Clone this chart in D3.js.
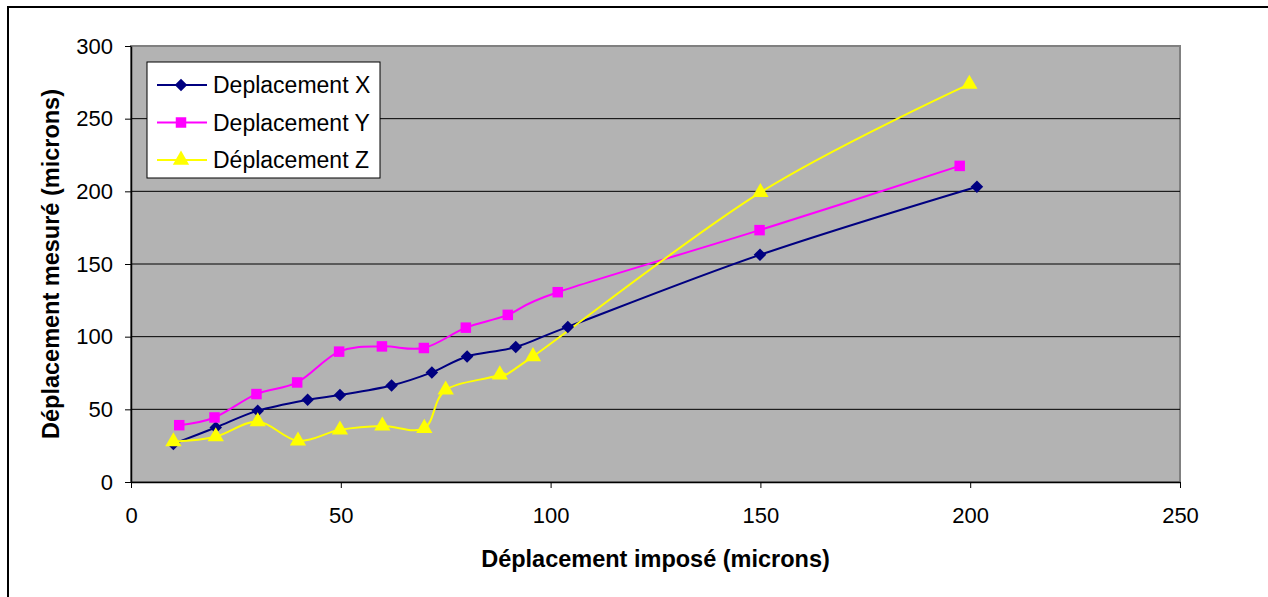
<!DOCTYPE html>
<html>
<head>
<meta charset="utf-8">
<script src="https://cdn.jsdelivr.net/npm/d3@7"></script>
<style>
  body { margin: 0; background: #fff; }
  text { font-family: "Liberation Sans", Arial, sans-serif; }
</style>
</head>
<body>
<svg id="chart" width="1268" height="597"></svg>
<script>
// data
const xValsX = [10.1, 20.2, 30.2, 42.1, 49.8, 62.1, 71.7, 80.1, 91.7, 104.1, 149.9, 201.6];
const yValsX = [26.2, 37.5, 49, 56.6, 59.8, 66.4, 75.4, 86.4, 92.9, 106.7, 156.3, 203.2];

const xValsY = [11.5, 19.9, 29.9, 39.6, 49.6, 59.8, 69.8, 79.8, 89.8, 101.7, 149.8, 197.5];
const yValsY = [39.1, 44.4, 60.5, 68.5, 89.7, 93.3, 92.2, 106.2, 115, 130.6, 173.3, 217.5];

const xValsZ = [10.1, 20.2, 30.2, 39.8, 49.8, 59.9, 69.9, 75, 87.9, 95.8, 150, 199.8];
const yValsZ = [27.8, 31.2, 41.6, 28.3, 35.9, 38.6, 37, 63.4, 73.8, 86.4, 199.3, 273.8];

const seriesNames = ["Deplacement X", "Deplacement Y", "Déplacement Z"];
const seriesColors = ["#000080", "#ff00ff", "#ffff00"];
const xTicks = [0, 50, 100, 150, 200, 250];
const yTicks = [0, 50, 100, 150, 200, 250, 300];

const series = [
  { name: seriesNames[0], color: seriesColors[0], symbol: "diamond", values: xValsX.map((x, i) => ({ x, y: yValsX[i] })) },
  { name: seriesNames[1], color: seriesColors[1], symbol: "square", values: xValsY.map((x, i) => ({ x, y: yValsY[i] })) },
  { name: seriesNames[2], color: seriesColors[2], symbol: "triangle", values: xValsZ.map((x, i) => ({ x, y: yValsZ[i] })) },
];

const svg = d3.select("#chart");

// outer chart border (only top and left visible)
svg.append("rect")
  .attr("x", 8).attr("y", 7)
  .attr("width", 1300).attr("height", 650)
  .attr("fill", "none").attr("stroke", "#000").attr("stroke-width", 2);

const plotLeft = 131, plotRight = 1180, plotTop = 46, plotBottom = 482;

const x = d3.scaleLinear().domain([0, 250]).range([plotLeft, plotRight]);
const y = d3.scaleLinear().domain([0, 300]).range([plotBottom, plotTop]);

// plot area
svg.append("rect")
  .attr("x", plotLeft).attr("y", plotTop)
  .attr("width", plotRight - plotLeft).attr("height", plotBottom - plotTop)
  .attr("fill", "#b3b3b3").attr("stroke", "#808080").attr("stroke-width", 2);

// gridlines
svg.append("g")
  .selectAll("line")
  .data(yTicks.filter(d => d > 0 && d < 300))
  .enter()
  .append("line")
  .attr("x1", plotLeft).attr("x2", plotRight)
  .attr("y1", d => y(d)).attr("y2", d => y(d))
  .attr("stroke", "#000").attr("stroke-width", 1);

// axes
const xAxis = svg.append("g")
  .attr("transform", `translate(0,${plotBottom})`)
  .call(d3.axisBottom(x).tickValues(xTicks).tickSize(6).tickSizeOuter(0).tickPadding(19));
const yAxis = svg.append("g")
  .attr("transform", `translate(${plotLeft},0)`)
  .call(d3.axisLeft(y).tickValues(yTicks).tickSize(6).tickSizeOuter(0).tickPadding(12));

[xAxis, yAxis].forEach(ax => {
  ax.select(".domain").attr("stroke", "#000").attr("stroke-width", 1.5);
  ax.selectAll(".tick line").attr("stroke", "#000");
  ax.selectAll(".tick text")
    .style("font-family", "'Liberation Sans', Arial, sans-serif")
    .style("font-size", "22px")
    .attr("fill", "#000");
});

// lines, Excel-like smoothing
const line = d3.line()
  .x(d => x(d.x))
  .y(d => y(d.y))
  .curve(d3.curveCardinal.tension(0));

const symbolOf = {
  diamond: d3.symbol().type(d3.symbolDiamond2).size(100),
  square: d3.symbol().type(d3.symbolSquare).size(110),
  triangle: d3.symbol().type(d3.symbolTriangle).size(115),
};

series.forEach(s => {
  svg.append("path")
    .datum(s.values)
    .attr("fill", "none")
    .attr("stroke", s.color)
    .attr("stroke-width", 2)
    .attr("d", line);
});

series.forEach(s => {
  svg.append("g")
    .selectAll("path")
    .data(s.values)
    .enter()
    .append("path")
    .attr("transform", d => `translate(${x(d.x)},${y(d.y)})`)
    .attr("d", symbolOf[s.symbol])
    .attr("fill", s.color);
});

// legend
const legend = svg.append("g").attr("transform", "translate(147,62)");
legend.append("rect")
  .attr("width", 233).attr("height", 116)
  .attr("fill", "#fff").attr("stroke", "#000").attr("stroke-width", 1);

series.forEach((s, i) => {
  const row = legend.append("g").attr("transform", `translate(0,${23 + i * 37.5})`);
  row.append("line")
    .attr("x1", 10).attr("x2", 60)
    .attr("stroke", s.color).attr("stroke-width", 2);
  row.append("path")
    .attr("transform", "translate(34,0)")
    .attr("d", symbolOf[s.symbol])
    .attr("fill", s.color);
  row.append("text")
    .attr("x", 66).attr("dy", "0.36em")
    .style("font-size", "23px")
    .text(s.name);
});

// axis titles
svg.append("text")
  .attr("x", (plotLeft + plotRight) / 2)
  .attr("y", 567)
  .attr("text-anchor", "middle")
  .style("font-size", "23.5px")
  .style("font-weight", "bold")
  .text("Déplacement imposé (microns)");

svg.append("text")
  .attr("transform", "rotate(-90)")
  .attr("x", -(plotTop + plotBottom) / 2)
  .attr("y", 59)
  .attr("text-anchor", "middle")
  .style("font-size", "23.5px")
  .style("font-weight", "bold")
  .text("Déplacement mesuré (microns)");
</script>
</body>
</html>
